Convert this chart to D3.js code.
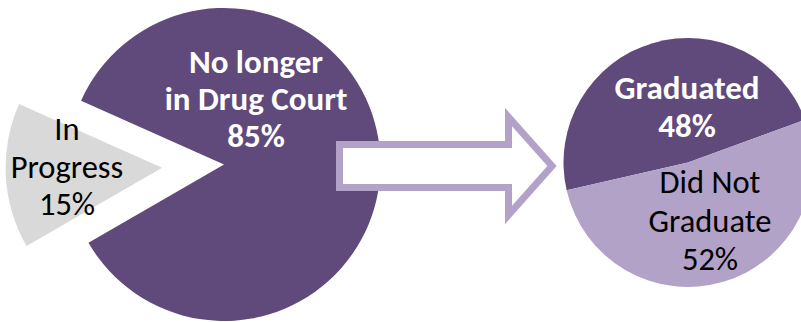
<!DOCTYPE html>
<html lang="en">
  <head>
    <meta charset="utf-8">
    <title>Drug Court outcomes</title>
    <style>
      body { margin: 0; background: #fff; }
      svg text { font-family: Carlito, Lato, "Open Sans", sans-serif; }
    </style>
  </head>
  <body>
    <script src="https://cdn.jsdelivr.net/npm/d3@7"></script>
    <script>
      // status of all participants
      var stageNames = ["No longer in Drug Court", "In Progress"];
      var stageValues = [85, 15];
      // outcome of those no longer in Drug Court
      var outcomeNames = ["Graduated", "Did Not Graduate"];
      var outcomeValues = [48, 52];

      var width = 801, height = 322;
      var purple = "#604A7B", lilac = "#B3A2C7", grey = "#D9D9D9";

      var svg = d3.select("body").append("svg")
        .attr("width", width)
        .attr("height", height)
        .attr("viewBox", [0, 0, width, height]);

      var deg = Math.PI / 180;

      // left pie, grey slice pulled out to the left
      var leftPie = d3.pie().sort(null).startAngle(-66 * deg).endAngle(294 * deg);
      var leftArc = d3.arc().innerRadius(0).outerRadius(156.5);
      var leftG = svg.append("g").attr("transform", "translate(224,164.5)");
      leftG.selectAll("path")
        .data(leftPie(stageValues))
        .join("path")
        .attr("fill", (d, i) => i == 0 ? purple : grey)
        .attr("transform", function(d, i) {
          if (i == 0) return null;
          var mid = (d.startAngle + d.endAngle) / 2;
          return "translate(" + (Math.sin(mid) * 62) + "," + (-Math.cos(mid) * 62) + ")";
        })
        .attr("d", leftArc)
        .append("title").text((d, i) => stageNames[i]);

      // right pie
      var rightPie = d3.pie().sort(null).startAngle(-102.9 * deg).endAngle(257.1 * deg);
      var rightArc = d3.arc().innerRadius(0).outerRadius(124.5);
      var rightG = svg.append("g").attr("transform", "translate(688,162.5)");
      rightG.selectAll("path")
        .data(rightPie(outcomeValues))
        .join("path")
        .attr("fill", (d, i) => i == 0 ? purple : lilac)
        .attr("d", rightArc)
        .append("title").text((d, i) => outcomeNames[i]);

      // arrow between the pies
      svg.append("path")
        .attr("d", "M339.5,144.5 L508.5,144.5 L508.5,117 L552,166 L508.5,215 L508.5,187.5 L339.5,187.5 Z")
        .attr("fill", "#fff")
        .attr("stroke", lilac)
        .attr("stroke-width", 7);

      function label(x, ys, lines, bold, color) {
        svg.append("text")
          .attr("text-anchor", "middle")
          .attr("font-size", bold ? 33 : 32.5)
          .attr("font-weight", bold ? "bold" : "normal")
          .attr("fill", color)
          .selectAll("tspan")
          .data(lines)
          .join("tspan")
          .attr("x", x)
          .attr("y", (d, i) => ys[i])
          .text(d => d);
      }

      label(256, [73, 110, 147], ["No longer", "in Drug Court", stageValues[0] + "%"], true, "#fff");
      label(67, [140, 178, 215], ["In", "Progress", stageValues[1] + "%"], false, "#000");
      label(687, [99, 137], [outcomeNames[0], outcomeValues[0] + "%"], true, "#fff");
      label(710, [193, 232, 270], ["Did Not", "Graduate", outcomeValues[1] + "%"], false, "#000");
    </script>
  </body>
</html>
